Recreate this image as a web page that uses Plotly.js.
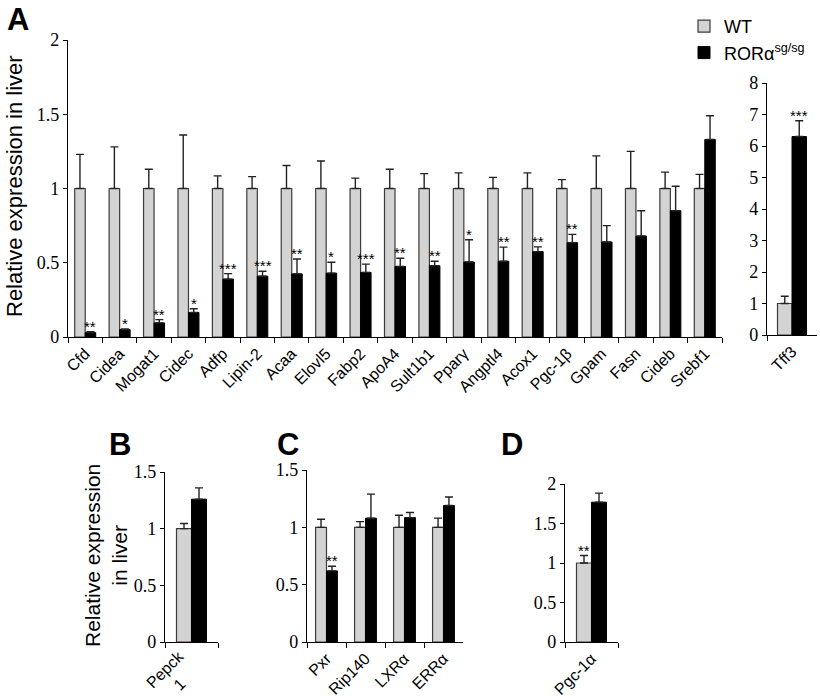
<!DOCTYPE html>
<html><head><meta charset="utf-8">
<script src="https://cdn.plot.ly/plotly-3.0.1.min.js"></script>
<style>body{margin:0;background:#fff}#chart{width:820px;height:700px}</style>
</head><body><div id="chart"></div>
<script>
// ---- Panel A (main) ----
const genesA = ['Cfd','Cidea','Mogat1','Cidec','Adfp','Lipin-2','Acaa','Elovl5','Fabp2','ApoA4','Sult1b1','Pparγ','Angptl4','Acox1','Pgc-1β','Gpam','Fasn','Cideb','Srebf1'];
const wtA    = [1,1,1,1,1,1,1,1,1,1,1,1,1,1,1,1,1,1,1];
const wtErrA = [0.23,0.28,0.13,0.36,0.085,0.08,0.155,0.185,0.07,0.13,0.10,0.105,0.075,0.105,0.06,0.22,0.25,0.11,0.095];
const koA    = [0.03,0.05,0.095,0.165,0.39,0.41,0.425,0.43,0.435,0.475,0.48,0.505,0.51,0.575,0.635,0.64,0.68,0.85,1.33];
const koErrA = [0.005,0.005,0.022,0.025,0.037,0.033,0.10,0.073,0.056,0.055,0.03,0.15,0.095,0.032,0.056,0.11,0.17,0.165,0.16];
const starsA = ['**','*','**','*','***','***','**','*','***','**','**','*','**','**','**','','','',''];
// ---- Panel A (Tff3) ----
const genesT = ['Tff3'];
const wtT = [1], wtErrT = [0.23], koT = [6.3], koErrT = [0.5];
const starsT = ['***'];
// ---- Panel B ----
const genesB = ['Pepck<br>1'];
const wtB = [1], wtErrB = [0.045], koB = [1.26], koErrB = [0.10];
// ---- Panel C ----
const genesC = ['Pxr','Rip140','LXRα','ERRα'];
const wtC = [1,1,1,1], wtErrC = [0.07,0.05,0.105,0.08];
const koC = [0.62,1.08,1.085,1.19], koErrC = [0.04,0.21,0.045,0.075];
const starsC = ['**','','',''];
// ---- Panel D ----
const genesD = ['Pgc-1α'];
const wtD = [1], wtErrD = [0.095], koD = [1.77], koErrD = [0.115];
const starsWtD = ['**'];

const seriesNames = ['WT', 'RORα<sup>sg/sg</sup>'];
const WT_FILL = '#d3d3d3', WT_LINE = '#3c3c3c', KO_FILL = '#000000';
const SANS = 'Liberation Sans';
const SERIF = 'Liberation Serif';

function zeros(n){ return new Array(n).fill(0); }
function pair(cats, wt, wtE, ko, koE, xa, ya, w, legend){
  return [
    {type:'bar', name:seriesNames[0], x:cats, y:wt, xaxis:xa, yaxis:ya, offset:-w, width:w,
     marker:{color:WT_FILL, line:{color:WT_LINE, width:1.2}}, showlegend:legend, legendrank:1,
     error_y:{type:'data', symmetric:false, array:wtE, arrayminus:zeros(wtE.length), color:'#222', thickness:1.4, width:4}},
    {type:'bar', name:seriesNames[1], x:cats, y:ko, xaxis:xa, yaxis:ya, offset:0, width:w,
     marker:{color:KO_FILL, line:{color:'#000', width:1}}, showlegend:legend, legendrank:2,
     error_y:{type:'data', symmetric:false, array:koE, arrayminus:zeros(koE.length), color:'#222', thickness:1.4, width:4}}
  ];
}
const wA = 0.305, wT = 0.29, wB = 0.283, wC = 0.28, wD = 0.283;
const data = [].concat(
  pair(genesA, wtA, wtErrA, koA, koErrA, 'x', 'y', wA, true),
  pair(genesT, wtT, wtErrT, koT, koErrT, 'x2', 'y2', wT, false),
  pair(genesB, wtB, wtErrB, koB, koErrB, 'x3', 'y3', wB, false),
  pair(genesC, wtC, wtErrC, koC, koErrC, 'x4', 'y4', wC, false),
  pair(genesD, wtD, wtErrD, koD, koErrD, 'x5', 'y5', wD, false)
);

const W = 820, H = 700;
const px = v => v / W, py = v => 1 - v / H;

function yax(top, bottom, range, dtick, anchor){
  return {domain:[py(bottom), py(top)], range:range, dtick:dtick, tick0:0, anchor:anchor,
    showline:true, linecolor:'#000', linewidth:1.2, ticks:'outside', ticklen:4, tickwidth:1.2, tickcolor:'#000',
    showgrid:false, zeroline:false, tickfont:{family:SERIF, size:18, color:'#000'}};
}
function xax(left, right, anchor){
  return {domain:[px(left), px(right)], anchor:anchor, type:'category',
    showline:true, linecolor:'#000', linewidth:1.2, ticks:'outside', tickson:'boundaries', ticklen:5, tickwidth:1.2, tickcolor:'#000',
    tickangle:-45, tickfont:{family:SANS, size:16, color:'#000'}, showgrid:false, zeroline:false};
}

const annotations = [];
function starNotes(stars, vals, errs, xa, ya, shift){
  stars.forEach((s, i) => {
    if(!s) return;
    annotations.push({text:s, x:i + shift, y:vals[i] + errs[i], xref:xa, yref:ya,
      xanchor:'center', yanchor:'bottom', yshift:-5, showarrow:false,
      font:{family:SANS, size:15, color:'#000'}});
  });
}
starNotes(starsA, koA, koErrA, 'x', 'y', wA/2);
starNotes(starsT, koT, koErrT, 'x2', 'y2', wT/2);
starNotes(starsC, koC, koErrC, 'x4', 'y4', wC/2);
starNotes(starsWtD, wtD, wtErrD, 'x5', 'y5', -wD/2);

function letter(t, x, y){
  annotations.push({text:'<b>'+t+'</b>', x:px(x), y:py(y), xref:'paper', yref:'paper',
    xanchor:'left', yanchor:'top', showarrow:false, font:{family:SANS, size:31, color:'#000'}});
}
letter('A', 5, 0); letter('B', 107, 425); letter('C', 275, 425); letter('D', 499, 425);

annotations.push({text:'Relative expression in liver', x:px(14), y:py(186), xref:'paper', yref:'paper',
  textangle:-90, showarrow:false, xanchor:'center', yanchor:'middle', font:{family:SANS, size:22, color:'#000'}});
annotations.push({text:'Relative expression<br>in liver', x:px(106), y:py(556), xref:'paper', yref:'paper',
  textangle:-90, showarrow:false, xanchor:'center', yanchor:'middle', font:{family:SANS, size:21, color:'#000'}});
// Panel B category label, centre-aligned two-line rotated text
annotations.push({text:genesB[0], x:0, y:0, xref:'x3', yref:'y3', textangle:-45, align:'center',
  xanchor:'right', yanchor:'top', xshift:13, yshift:-3, showarrow:false, font:{family:SANS, size:16, color:'#000'}});

const xaxis3 = xax(165, 218, 'y3'); xaxis3.showticklabels = false;

const layout = {
  width:W, height:H, margin:{l:0, r:0, t:0, b:0},
  font:{family:SERIF, size:18, color:'#000'},
  paper_bgcolor:'#fff', plot_bgcolor:'rgba(0,0,0,0)',
  barmode:'group', showlegend:true,
  legend:{x:px(684), y:py(8), xanchor:'left', yanchor:'top', bgcolor:'rgba(0,0,0,0)',
    font:{family:SANS, size:18, color:'#000'}, tracegroupgap:0, itemwidth:30},
  xaxis: xax(68, 722, 'y'),   yaxis: yax(40, 337, [0,2], 0.5, 'x'),
  xaxis2: xax(767, 817, 'y2'), yaxis2: yax(83, 335, [0,8], 1, 'x2'),
  xaxis3: xaxis3,              yaxis3: yax(472, 642, [0,1.5], 0.5, 'x3'),
  xaxis4: xax(307, 463, 'y4'), yaxis4: yax(470, 642, [0,1.5], 0.5, 'x4'),
  xaxis5: xax(565, 618, 'y5'), yaxis5: yax(484, 642, [0,2], 0.5, 'x5'),
  annotations: annotations
};
Plotly.newPlot('chart', data, layout, {displayModeBar:false});
</script></body></html>
